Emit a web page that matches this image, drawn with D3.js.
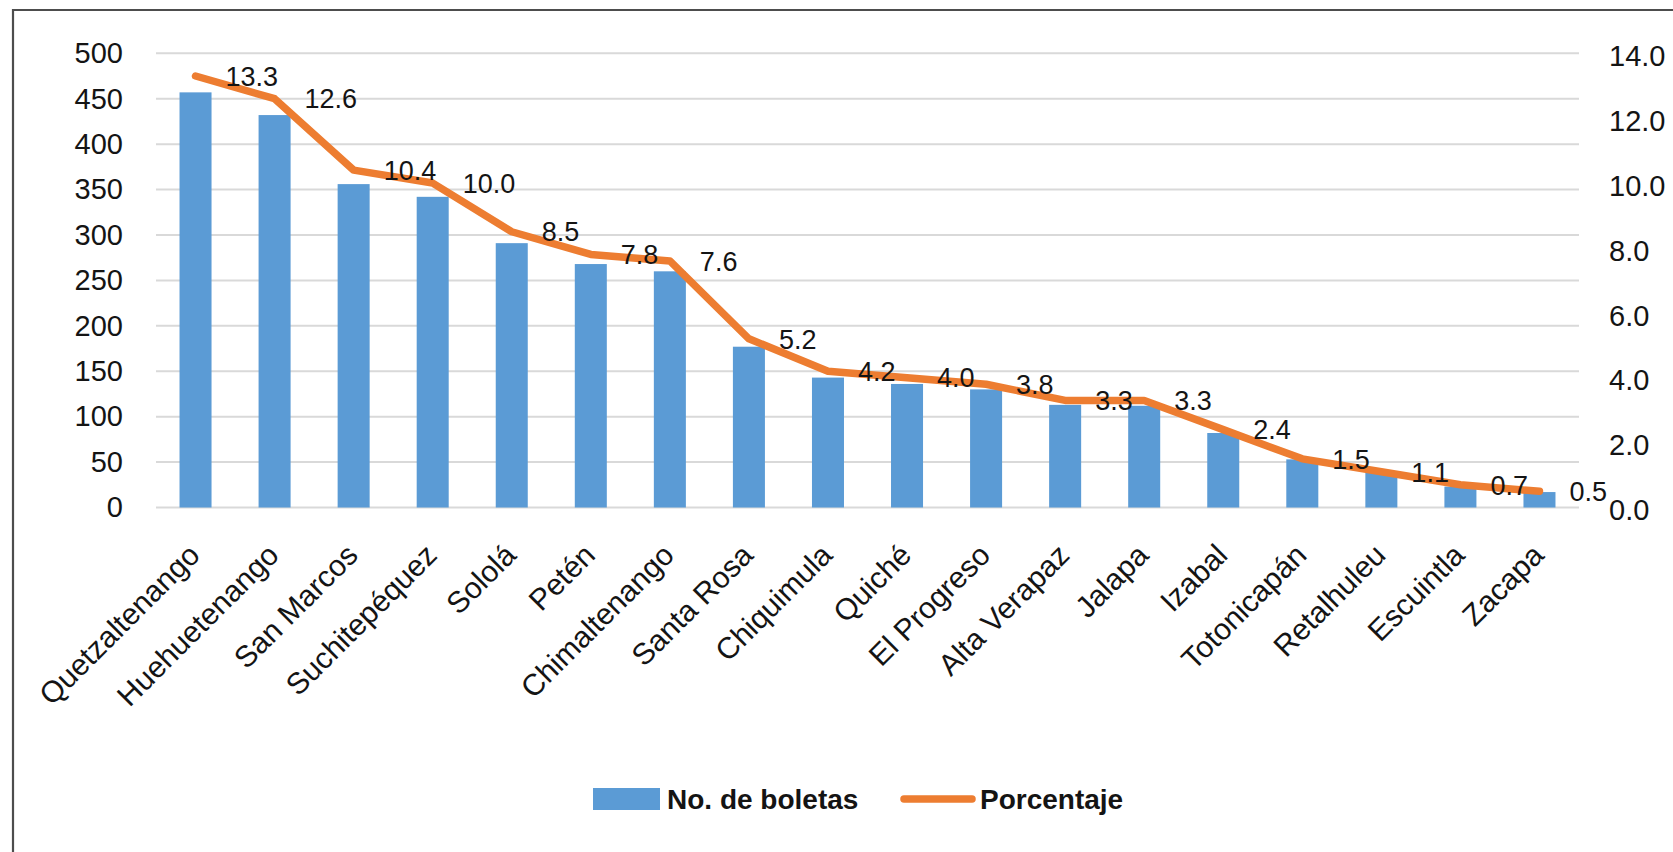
<!DOCTYPE html>
<html lang="es">
<head>
<meta charset="utf-8">
<title>Boletas por departamento</title>
<script src="https://cdn.jsdelivr.net/npm/d3@7"></script>
<style>
  html, body { margin: 0; padding: 0; background: #fff; }
  svg { display: block; font-family: "Liberation Sans", Arial, sans-serif; }
</style>
</head>
<body>
<div id="chart"></div>
<script>
// Datos
const departamentos = [
  'Quetzaltenango', 'Huehuetenango', 'San Marcos', 'Suchitepéquez', 'Sololá',
  'Petén', 'Chimaltenango', 'Santa Rosa', 'Chiquimula', 'Quiché',
  'El Progreso', 'Alta Verapaz', 'Jalapa', 'Izabal', 'Totonicapán',
  'Retalhuleu', 'Escuintla', 'Zacapa'
];
const boletas = [457, 432, 356, 342, 291, 268, 260, 177, 143, 136, 130, 113, 112, 82, 53, 39, 23, 17];
const porcentaje = [13.3, 12.6, 10.4, 10.0, 8.5, 7.8, 7.6, 5.2, 4.2, 4.0, 3.8, 3.3, 3.3, 2.4, 1.5, 1.1, 0.7, 0.5];
const ticksIzq = d3.range(0, 501, 50);
const ticksDer = d3.range(0, 14.1, 2);
const leyenda = ['No. de boletas', 'Porcentaje'];

const width = 1673;
const height = 852;
const azul = '#5B9BD5';
const naranja = '#ED7D31';

const datos = departamentos.map((d, i) => ({ dep: d, n: boletas[i], p: porcentaje[i] }));

// 1. Contenedor SVG
const svg = d3.select('#chart').append('svg')
  .attr('width', width)
  .attr('height', height)
  .attr('viewBox', [0, 0, width, height]);

svg.append('rect').attr('width', width).attr('height', height).attr('fill', '#fff');

// marco recortado del gráfico
svg.append('path')
  .attr('d', `M13,${height + 5} V10 H${width + 5}`)
  .attr('fill', 'none')
  .attr('stroke', '#4d4d4d')
  .attr('stroke-width', 2.2);

// 2. Escalas
const x = d3.scaleBand()
  .domain(departamentos)
  .range([156, 1579])
  .paddingInner(0.595)
  .paddingOuter(0.2975);

const yIzq = d3.scaleLinear().domain([0, 500]).range([507.5, 53.3]);
const yDer = d3.scaleLinear().domain([0, 14]).range([507.5, 53.3]);

const cx = d => x(d) + x.bandwidth() / 2;

// 3. Líneas de cuadrícula
svg.append('g').attr('class', 'grid')
  .selectAll('line')
  .data(ticksIzq)
  .enter()
  .append('line')
  .attr('x1', 156)
  .attr('x2', 1579)
  .attr('y1', d => yIzq(d))
  .attr('y2', d => yIzq(d))
  .attr('stroke', '#d9d9d9')
  .attr('stroke-width', 2);

// 4. Ejes
const ejeIzq = svg.append('g')
  .attr('transform', 'translate(156,0)')
  .call(d3.axisLeft(yIzq).tickValues(ticksIzq).tickSize(0).tickPadding(33));

const ejeDer = svg.append('g')
  .attr('transform', 'translate(1579,0)')
  .call(d3.axisRight(yDer).tickValues(ticksDer).tickSize(0).tickPadding(30).tickFormat(d3.format('.1f')));

[ejeIzq, ejeDer].forEach(eje => {
  eje.select('.domain').remove();
  eje.selectAll('text')
    .attr('font-family', '"Liberation Sans", Arial, sans-serif')
    .attr('font-size', 29)
    .attr('fill', '#141414');
});
ejeDer.selectAll('text').attr('dy', '0.42em');

// 5. Barras
svg.append('g').attr('class', 'bars')
  .selectAll('rect')
  .data(datos)
  .enter()
  .append('rect')
  .attr('x', d => x(d.dep))
  .attr('width', x.bandwidth())
  .attr('y', d => yIzq(d.n))
  .attr('height', d => yIzq(0) - yIzq(d.n))
  .attr('fill', azul);

// 6. Línea de porcentaje
const linea = d3.line()
  .x(d => cx(d.dep))
  .y(d => yDer(d.p));

svg.append('path')
  .datum(datos)
  .attr('d', linea)
  .attr('fill', 'none')
  .attr('stroke', naranja)
  .attr('stroke-width', 7.5)
  .attr('stroke-linecap', 'round')
  .attr('stroke-linejoin', 'round');

// etiquetas de datos a la derecha de cada punto
svg.append('g').attr('class', 'labels')
  .selectAll('text')
  .data(datos)
  .enter()
  .append('text')
  .attr('x', d => cx(d.dep) + 30)
  .attr('y', d => yDer(d.p))
  .attr('dy', '0.36em')
  .attr('font-size', 27)
  .attr('fill', '#141414')
  .text(d => d3.format('.1f')(d.p));

// 7. Etiquetas del eje X (rotadas)
svg.append('g').attr('class', 'xlabels')
  .selectAll('text')
  .data(departamentos)
  .enter()
  .append('text')
  .attr('transform', d => `translate(${cx(d) + 6},557) rotate(-45)`)
  .attr('text-anchor', 'end')
  .attr('font-size', 30)
  .attr('fill', '#141414')
  .text(d => d);

// 8. Leyenda
const ley = svg.append('g').attr('class', 'legend');

ley.append('rect')
  .attr('x', 593).attr('y', 788)
  .attr('width', 67).attr('height', 22)
  .attr('fill', azul);

ley.append('line')
  .attr('x1', 904).attr('x2', 972)
  .attr('y1', 799).attr('y2', 799)
  .attr('stroke', naranja)
  .attr('stroke-width', 7.5)
  .attr('stroke-linecap', 'round');

ley.selectAll('text')
  .data(leyenda)
  .enter()
  .append('text')
  .attr('x', (d, i) => i === 0 ? 667 : 980)
  .attr('y', 809)
  .attr('font-size', 28)
  .attr('font-weight', 'bold')
  .attr('fill', '#141414')
  .text(d => d);
</script>
</body>
</html>
